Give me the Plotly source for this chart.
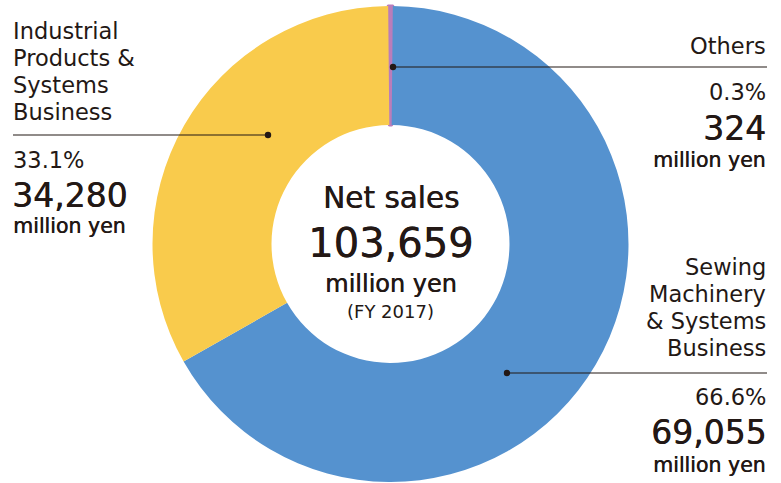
import plotly.graph_objects as go

W, H = 781, 483

segments = ["Others", "Sewing Machinery & Systems Business", "Industrial Products & Systems Business"]
values = [324, 69055, 34280]
shares = ["0.3%", "66.6%", "33.1%"]
amounts = ["324", "69,055", "34,280"]
colors = ["#BA7DBA", "#5592CF", "#F9CB4C"]
total_label = "103,659"
fy_label = "(FY 2017)"

INK = "#231815"
FONT = "DejaVu Sans"
MED = "0.5px 0 0 #231815"

def px(x):
    return x / W

def py(y):
    return 1 - y / H

fig = go.Figure()
share_others = values[0] / sum(values)
fig.add_trace(go.Pie(
    labels=segments, values=values, sort=False, direction="clockwise",
    rotation=-share_others * 360 / 2, hole=0.5,
    marker=dict(colors=colors, line=dict(width=[3, 0, 0], color=[colors[0], colors[1], colors[2]])),
    textinfo="none", hoverinfo="label+value+percent", showlegend=False,
    domain=dict(x=[px(152.5), px(628.5)], y=[py(482), py(6)]),
))

ann = []
def t(x, y, text, size, anchor="left", shadow="none"):
    ann.append(dict(x=px(x), y=py(y), xref="paper", yref="paper", text=text,
                    showarrow=False, xanchor=anchor, yanchor="middle", align=anchor,
                    borderpad=0,
                    font=dict(family=FONT, size=size, color=INK, shadow=shadow)))

LBL = 22.5
PCT = 22.5
AMT = 33
MY = 20.5

# Left: Industrial
left_lines = ["Industrial", "Products &", "Systems", "Business"]
for i, s in enumerate(left_lines):
    t(12, 31 + i * 27, s, LBL)
t(12, 160, shares[2], PCT)
t(11, 195, amounts[2], AMT, shadow=MED)
t(12, 226, "million yen", MY, shadow=MED)

# Right top: Others
t(767, 46, segments[0], LBL, "right")
t(767, 92, shares[0], PCT, "right")
t(767, 128, amounts[0], AMT, "right", shadow=MED)
t(767, 160, "million yen", MY, "right", shadow=MED)

# Right bottom: Sewing
right_lines = ["Sewing", "Machinery", "& Systems", "Business"]
for i, s in enumerate(right_lines):
    t(767, 267 + i * 27, s, LBL, "right")
t(767, 397, shares[1], PCT, "right")
t(767, 432, amounts[1], AMT, "right", shadow=MED)
t(767, 465, "million yen", MY, "right", shadow=MED)

# Center
t(390.5, 198, "Net sales", 29.5, "center", shadow=MED)
t(390.5, 243, total_label, 40, "center", shadow=MED)
t(390.5, 284, "million yen", 24, "center", shadow=MED)
t(390.5, 311, fy_label, 18, "center")

shapes = []
def leader(x0, x1, y, dotx):
    shapes.append(dict(type="line", xref="paper", yref="paper", x0=px(x0), x1=px(x1),
                       y0=py(y), y1=py(y), line=dict(color=INK, width=1.2)))
    r = 3.2
    shapes.append(dict(type="circle", xref="paper", yref="paper",
                       x0=px(dotx - r), x1=px(dotx + r), y0=py(y - r), y1=py(y + r),
                       fillcolor=INK, line=dict(width=0)))

leader(13, 268, 135, 268)
leader(393, 767, 67, 393)
leader(507, 767, 373, 507)

fig.update_layout(width=W, height=H, margin=dict(l=0, r=0, t=0, b=0),
                  paper_bgcolor="white", plot_bgcolor="white",
                  annotations=ann, shapes=shapes)
fig.write_html("out.html")
